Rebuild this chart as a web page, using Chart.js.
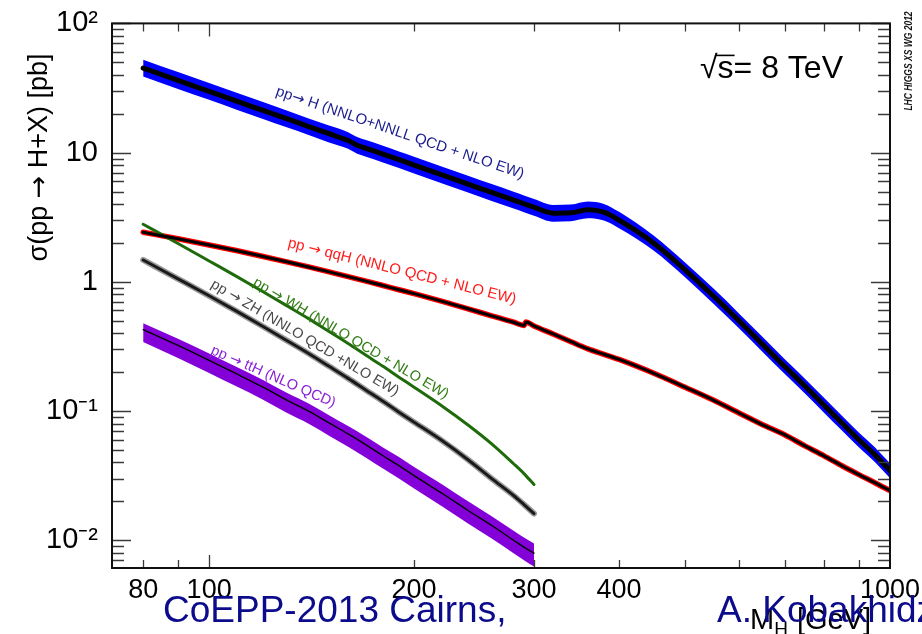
<!DOCTYPE html>
<html>
<head>
<meta charset="utf-8">
<script src="https://cdn.jsdelivr.net/npm/chart.js@4.4.1/dist/chart.umd.min.js"></script>
<style>
  html, body { margin: 0; padding: 0; background: #ffffff; }
  #wrap { width: 922px; height: 634px; position: relative; }
</style>
</head>
<body>
<div id="wrap"><canvas id="xsec" width="922" height="634"></canvas></div>
<script>
// Higgs boson production cross sections at sqrt(s) = 8 TeV, in pb, versus M_H in GeV.
const massFull = [80, 90, 100, 110, 120, 130, 140, 150, 160, 165, 170, 180, 190, 200, 220, 240, 260, 280, 290, 300,
                  320, 340, 360, 380, 400, 450, 500, 550, 600, 650, 700, 750, 800, 850, 900, 950, 1000];

// gluon fusion: central value and uncertainty band
const ggfXsec = [45.1, 36.2, 29.8, 24.9, 21.2, 18.3, 15.9, 14.0, 12.4, 11.4, 10.8, 9.75, 8.82, 8.01, 6.71, 5.71, 4.92, 4.29, 4.02, 3.78,
                 3.40, 3.42, 3.61, 3.46, 3.00, 1.99, 1.24, 0.78, 0.50, 0.328, 0.222, 0.156, 0.111, 0.0807, 0.0599, 0.046, 0.0345];
const ggfUp   = [52.3, 42.0, 34.6, 28.9, 24.6, 21.2, 18.4, 16.2, 14.4, 13.2, 12.5, 11.3, 10.2, 9.3, 7.78, 6.62, 5.71, 4.98, 4.66, 4.38,
                 3.94, 3.97, 4.19, 4.01, 3.48, 2.27, 1.41, 0.89, 0.57, 0.374, 0.253, 0.178, 0.1265, 0.092, 0.0683, 0.0524, 0.0393];
const ggfDown = [38.8, 31.1, 25.6, 21.4, 18.2, 15.7, 13.7, 12.0, 10.7, 9.8, 9.3, 8.4, 7.6, 6.9, 5.77, 4.91, 4.23, 3.69, 3.46, 3.25,
                 2.92, 2.94, 3.10, 2.98, 2.60, 1.74, 1.085, 0.68, 0.4375, 0.287, 0.194, 0.1365, 0.097, 0.0706, 0.0524, 0.0403, 0.0302];

// vector boson fusion
const vbfMass = [80, 90, 100, 110, 120, 130, 140, 150, 160, 170, 180, 190, 200, 220, 240, 260, 280, 290, 292, 300,
                 320, 340, 360, 380, 400, 450, 500, 550, 600, 650, 700, 750, 800, 850, 900, 950, 1000];
const vbfXsec = [2.42, 2.153, 1.929, 1.738, 1.571, 1.428, 1.304, 1.194, 1.098, 1.012, 0.9365, 0.868, 0.810, 0.7055, 0.6185, 0.5455, 0.4871, 0.4596, 0.488, 0.4555,
                 0.395, 0.344, 0.303, 0.275, 0.251, 0.196, 0.153, 0.1216, 0.0966, 0.0783, 0.0656, 0.0537, 0.0450, 0.0377, 0.0322, 0.0279, 0.0242];

// associated production (computed up to 300 GeV)
const vhMass  = [80, 90, 100, 110, 120, 130, 140, 150, 160, 170, 180, 190, 200, 220, 240, 260, 280, 290, 300];
const whXsec  = [2.79, 1.98, 1.45, 1.093, 0.838, 0.654, 0.519, 0.4125, 0.333, 0.270, 0.222, 0.183, 0.153, 0.109, 0.078, 0.0557, 0.0391, 0.0328, 0.0270];
const zhXsec  = [1.476, 1.055, 0.780, 0.588, 0.451, 0.352, 0.279, 0.222, 0.179, 0.145, 0.119, 0.098, 0.082, 0.0588, 0.042, 0.030, 0.0222, 0.0189, 0.0161];
const tthXsec = [0.427, 0.322, 0.247, 0.193, 0.153, 0.1215, 0.100, 0.0809, 0.0665, 0.0548, 0.0451, 0.0378, 0.0316, 0.0230, 0.0170, 0.0130, 0.0100, 0.00884, 0.00794];
const tthUp   = [0.479, 0.362, 0.279, 0.218, 0.174, 0.1385, 0.1144, 0.0929, 0.0766, 0.0633, 0.0523, 0.0440, 0.0369, 0.0270, 0.0200, 0.01534, 0.01184, 0.01049, 0.00945];
const tthDown = [0.342, 0.2575, 0.1974, 0.1541, 0.1224, 0.0970, 0.0798, 0.0645, 0.0530, 0.0436, 0.0359, 0.0301, 0.0251, 0.01826, 0.0135, 0.01031, 0.00793, 0.0070, 0.00627];

// axis ticks
const xTickValues = [80, 100, 200, 300, 400, 1000];
const xTickLabels = ['80', '100', '200', '300', '400', '1000'];
const yTickValues = [0.01, 0.1, 1, 10, 100];
const yTickLabels = ['10\u207B\u00B2', '10\u207B\u00B9', '1', '10', '10\u00B2'];

// process labels, anchored in (M_H, sigma) space
const processLabels = [
  { text: 'pp\u2192 H (NNLO+NNLL QCD + NLO EW)', m: 125.0, s: 27.9, angle: 18.7, color: '#1c1c8e', size: 15 },
  { text: 'pp \u2192 qqH (NNLO QCD + NLO EW)',   m: 130.2, s: 1.86, angle: 14.0, color: '#ff1a1a', size: 15 },
  { text: 'pp \u2192 WH (NNLO QCD + NLO EW)',    m: 115.7, s: 0.948, angle: 30.6, color: '#2f7d12', size: 14.5 },
  { text: 'pp \u2192 ZH (NNLO QCD +NLO EW)',     m: 100.3, s: 0.915, angle: 30.5, color: '#4a4a4a', size: 14.5 },
  { text: 'pp \u2192 ttH (NLO QCD)',             m: 100.3, s: 0.2794, angle: 23.7, color: '#8a22d8', size: 14.5 }
];

const FONT = '"Liberation Sans", Arial, Helvetica, sans-serif';
const ARROW_FONT = '"DejaVu Sans", sans-serif';
const pts = (xs, ys) => xs.map((x, i) => ({ x: x, y: ys[i] }));

const line = (data, color, width, order) => ({
  data: data, borderColor: color, borderWidth: width, pointRadius: 0, fill: false,
  cubicInterpolationMode: 'monotone', borderCapStyle: 'round', borderJoinStyle: 'round', order: order
});
const bandEdge = (data, color, target, order) => ({
  data: data, borderWidth: 0, borderColor: 'rgba(0,0,0,0)', backgroundColor: color, pointRadius: 0,
  cubicInterpolationMode: 'monotone', fill: target === null ? false : { target: target }, order: order
});

const datasets = [
  /* 0 */ bandEdge(pts(massFull, ggfUp), '#0000ff', 1, 5),
  /* 1 */ bandEdge(pts(massFull, ggfDown), '#0000ff', null, 5),
  /* 2 */ line(pts(massFull, ggfXsec), '#000000', 5, 1),
  /* 3 */ line(pts(vbfMass, vbfXsec), '#ff0000', 5.5, 3),
  /* 4 */ line(pts(vbfMass, vbfXsec), '#000000', 3, 2),
  /* 5 */ line(pts(vhMass, whXsec), '#1f6b0c', 3, 2),
  /* 6 */ line(pts(vhMass, zhXsec), '#9a9a9a', 6, 3),
  /* 7 */ line(pts(vhMass, zhXsec), '#1a1a1a', 3, 2),
  /* 8 */ bandEdge(pts(vhMass, tthUp), '#8400d8', 9, 5),
  /* 9 */ bandEdge(pts(vhMass, tthDown), '#8400d8', null, 5),
  /* 10 */ line(pts(vhMass, tthXsec), '#000000', 1.4, 1)
];

// text with the arrow glyph taken from a font that draws it at full size
function arrowTextWidth(ctx, text, size) {
  const parts = text.split('\u2192');
  let w = 0;
  parts.forEach((p, i) => {
    ctx.font = `${size}px ${FONT}`;
    w += ctx.measureText(p).width;
    if (i < parts.length - 1) {
      ctx.font = `${size}px ${ARROW_FONT}`;
      w += ctx.measureText('\u2192').width;
    }
  });
  return w;
}
function drawArrowText(ctx, text, size, x0, y0) {
  const parts = text.split('\u2192');
  let x = x0;
  parts.forEach((p, i) => {
    ctx.font = `${size}px ${FONT}`;
    ctx.fillText(p, x, y0);
    x += ctx.measureText(p).width;
    if (i < parts.length - 1) {
      ctx.font = `${size}px ${ARROW_FONT}`;
      ctx.fillText('\u2192', x, y0);
      x += ctx.measureText('\u2192').width;
    }
  });
}

// inward tick marks, frame and all free-standing text
const decorations = {
  id: 'decorations',
  afterDraw(chart) {
    const { ctx, chartArea: a, scales: { x, y } } = chart;
    ctx.save();

    // y tick marks on left and right
    ctx.strokeStyle = '#3a3a3a';
    ctx.lineWidth = 1.3;
    for (let d = -3; d <= 2; d++) {
      for (let k = 1; k <= 9; k++) {
        const v = Number((k * Math.pow(10, d)).toPrecision(6));
        if (v < y.min || v > y.max) continue;
        const len = k === 1 ? 19 : 12;
        const py = Math.round(y.getPixelForValue(v)) + 0.5;
        ctx.beginPath();
        ctx.moveTo(a.left, py); ctx.lineTo(a.left + len, py);
        ctx.moveTo(a.right, py); ctx.lineTo(a.right - len, py);
        ctx.stroke();
      }
    }
    // x tick marks on bottom and top
    for (const d of [10, 100]) {
      for (let k = 1; k <= 9; k++) {
        const v = k * d;
        if (v < x.min || v > x.max) continue;
        const len = k === 1 ? 13 : 8;
        const px = Math.round(x.getPixelForValue(v)) + 0.5;
        ctx.beginPath();
        ctx.moveTo(px, a.bottom); ctx.lineTo(px, a.bottom - len);
        ctx.moveTo(px, a.top); ctx.lineTo(px, a.top + len);
        ctx.stroke();
      }
    }

    // frame
    ctx.strokeStyle = '#111111';
    ctx.lineWidth = 2;
    ctx.strokeRect(a.left, a.top, a.right - a.left, a.bottom - a.top);

    // process labels
    ctx.textAlign = 'left';
    ctx.textBaseline = 'alphabetic';
    for (const lab of processLabels) {
      const px = x.getPixelForValue(lab.m);
      const py = y.getPixelForValue(lab.s);
      ctx.save();
      ctx.translate(px, py);
      ctx.rotate(lab.angle * Math.PI / 180);
      ctx.fillStyle = lab.color;
      drawArrowText(ctx, lab.text, lab.size, 0, 0);
      ctx.restore();
    }

    // y axis title, aligned toward the top end of the axis
    ctx.save();
    ctx.translate(a.left - 72, a.top + 30);
    ctx.rotate(-Math.PI / 2);
    ctx.fillStyle = '#000000';
    ctx.textAlign = 'left';
    ctx.textBaseline = 'middle';
    const yTitle = '\u03C3(pp \u2192 H+X) [pb]';
    const yTitleW = arrowTextWidth(ctx, yTitle, 27);
    drawArrowText(ctx, yTitle, 27, -yTitleW, 0);
    ctx.restore();

    // centre-of-mass energy
    ctx.save();
    ctx.fillStyle = '#000000';
    ctx.textAlign = 'left';
    ctx.textBaseline = 'alphabetic';
    const ex = a.right - 190, ey = a.top + 55;
    ctx.font = `32px ${FONT}`;
    ctx.fillText('\u221A', ex, ey);
    const rw = ctx.measureText('\u221A').width;
    ctx.fillText('s= 8 TeV', ex + rw, ey);
    const sw = ctx.measureText('s').width;
    ctx.strokeStyle = '#000000';
    ctx.lineWidth = 1.6;
    ctx.beginPath();
    ctx.moveTo(ex + rw - 2, ey - 23);
    ctx.lineTo(ex + rw + sw + 1, ey - 23);
    ctx.stroke();
    ctx.restore();

    // working group tag on the right margin
    ctx.save();
    ctx.translate(909, 61);
    ctx.rotate(-Math.PI / 2);
    ctx.scale(1, 1.3);
    ctx.font = `italic bold 8.5px ${FONT}`;
    ctx.fillStyle = '#141414';
    ctx.textAlign = 'center';
    ctx.textBaseline = 'middle';
    ctx.fillText('LHC HIGGS XS WG 2012', 0, 0);
    ctx.restore();

    // x axis title
    ctx.save();
    ctx.fillStyle = '#000000';
    ctx.textAlign = 'left';
    ctx.textBaseline = 'alphabetic';
    let tx = 750;
    const ty = 629;
    ctx.font = `29px ${FONT}`;
    ctx.fillText('M', tx, ty);
    tx += ctx.measureText('M').width;
    ctx.font = `19px ${FONT}`;
    ctx.fillText('H', tx, ty + 6);
    tx += ctx.measureText('H').width + 1;
    ctx.font = `29px ${FONT}`;
    ctx.fillText(' [GeV]', tx, ty);
    ctx.restore();

    // footer line
    ctx.save();
    ctx.fillStyle = '#0b0b8c';
    ctx.textAlign = 'left';
    ctx.font = `37px ${FONT}`;
    ctx.textBaseline = 'alphabetic';
    ctx.fillText('CoEPP-2013 Cairns,', 163, 622);
    ctx.fillText('A. Kobakhidze', 717, 622);
    ctx.restore();

    ctx.restore();
  }
};

new Chart(document.getElementById('xsec'), {
  type: 'line',
  data: { datasets: datasets },
  options: {
    responsive: false,
    animation: false,
    events: [],
    layout: { padding: { top: 20, right: 32, left: 0, bottom: 0 } },
    plugins: { legend: { display: false }, tooltip: { enabled: false }, title: { display: false } },
    scales: {
      x: {
        type: 'logarithmic', position: 'bottom', min: 72, max: 1000,
        grid: { display: false }, border: { display: false },
        afterBuildTicks: (s) => { s.ticks = xTickValues.map(v => ({ value: v })); },
        afterFit: (s) => { s.height = 66; },
        ticks: {
          autoSkip: false, maxRotation: 0, minRotation: 0, padding: -2, color: '#000000',
          font: { family: FONT, size: 27 },
          callback: (v) => xTickLabels[xTickValues.indexOf(v)]
        }
      },
      y: {
        type: 'logarithmic', position: 'left', min: 0.0061, max: 100,
        grid: { display: false }, border: { display: false },
        afterBuildTicks: (s) => { s.ticks = yTickValues.map(v => ({ value: v })); },
        afterFit: (s) => { s.width = 112; },
        ticks: {
          autoSkip: false, padding: 6, color: '#000000',
          font: { family: FONT, size: 29 },
          callback: (v) => yTickLabels[yTickValues.indexOf(v)]
        }
      }
    }
  },
  plugins: [decorations]
});
</script>
</body>
</html>
